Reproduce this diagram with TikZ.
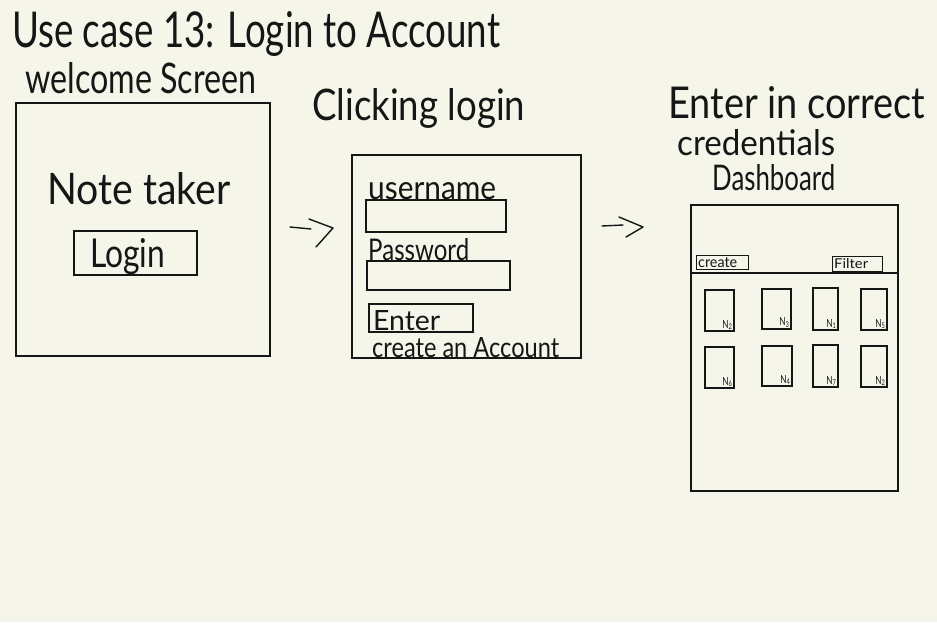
\documentclass[tikz,border=0pt]{standalone}
\usepackage{fontspec}
\setmainfont{Lato}
\usepackage{graphicx}
\definecolor{paper}{RGB}{245,245,234}
\definecolor{ink}{RGB}{22,22,22}
\newcommand\hw[3]{\resizebox{#1pt}{#2pt}{#3}}
\begin{document}
\begin{tikzpicture}[x=1pt,y=-1pt,
  frame/.style={draw=ink, line width=1.3pt, rectangle, inner sep=0pt},
  field/.style={draw=ink, line width=1.3pt, rectangle, inner sep=0pt},
  note/.style={draw=ink, line width=1.1pt, rectangle, inner sep=0pt},
  lbl/.style={inner sep=0pt, anchor=base west, text=ink},
  nlbl/.style={inner sep=0pt, anchor=south east, text=ink},
  stroke/.style={draw=ink, line width=1.4pt, line cap=round, line join=round}]
\fill[paper] (0,0) rectangle (937,622);
\useasboundingbox (0,0) rectangle (937,622);

% titles
\node[lbl] (title) at (12,47) {\hw{488}{36}{Use case 13: Login to Account}};
\node[lbl] (t1) at (25,93) {\hw{231}{31}{welcome Screen}};
\node[lbl] (t2) at (312,120) {\hw{213}{32}{Clicking login}};
\node[lbl] (t3a) at (668,118) {\hw{257}{32}{Enter in correct}};
\node[lbl] (t3b) at (677,155) {\hw{158}{26}{credentials}};
\node[lbl] (t3c) at (712,190) {\hw{123}{26}{Dashboard}};

% welcome screen
\node[frame, minimum width=254pt, minimum height=253pt] (welcome) at (143,229.5) {};
\node[lbl] (notetaker) at (47,204) {\hw{183}{32}{Note taker}};
\node[field, minimum width=123pt, minimum height=44pt] (loginbtn) at (135.5,253) {};
\node[lbl] (logintxt) at (90,267) {\hw{75}{29}{Login}};

% login screen
\node[frame, minimum width=229pt, minimum height=203pt] (loginscr) at (466.5,256.5) {};
\node[lbl] (utxt) at (368,199) {\hw{128}{17}{username}};
\node[field, minimum width=140pt, minimum height=32pt] (ufield) at (436,216) {};
\node[lbl] (ptxt) at (368,260) {\hw{101}{22}{Password}};
\node[field, minimum width=143pt, minimum height=29pt] (pfield) at (438.5,275.5) {};
\node[field, minimum width=104pt, minimum height=28pt] (enterbtn) at (421,318) {};
\node[lbl] (entertxt) at (373,330) {\hw{67}{20}{Enter}};
\node[lbl] (createacc) at (372,357) {\hw{187}{20}{create an Account}};

% dashboard
\node[frame, minimum width=207pt, minimum height=286pt] (dash) at (794.5,348) {};
\draw[draw=ink, line width=1.3pt] (dash.west |- 0,273) coordinate (dl) -- (dash.east |- 0,273) coordinate (dr);
\node[field, line width=1pt, minimum width=52pt, minimum height=14pt] (createbtn) at (722,262) {};
\node[lbl] (createtxt) at (698,267) {\hw{39}{10}{create}};
\node[field, line width=1pt, minimum width=50pt, minimum height=15pt] (filterbtn) at (857,263.5) {};
\node[lbl] (filtertxt) at (834,268) {\hw{34}{10}{Filter}};

\node[note, minimum width=29pt, minimum height=41pt] (n1) at (719.5,310.5) {};
\node[note, minimum width=29pt, minimum height=40pt] (n2) at (776.5,309) {};
\node[note, minimum width=25pt, minimum height=42pt] (n3) at (825.5,309) {};
\node[note, minimum width=26pt, minimum height=41pt] (n4) at (874,309.5) {};
\node[note, minimum width=29pt, minimum height=41pt] (n5) at (719.5,367.5) {};
\node[note, minimum width=30pt, minimum height=40pt] (n6) at (777,366) {};
\node[note, minimum width=25pt, minimum height=42pt] (n7) at (825.5,366) {};
\node[note, minimum width=26pt, minimum height=41pt] (n8) at (874,366.5) {};
\foreach \n/\s in {n1/2,n2/3,n3/1,n4/5,n5/6,n6/4,n7/7,n8/2}{
  \node[nlbl] (\n lab) at ([shift={(-2,-1.5)}]\n.south east) {\hw{10}{8}{N\textsubscript{\s}}};
}

% arrows
\coordinate (a1s) at (290,227); \coordinate (a1e) at (311,229);
\coordinate (c1a) at (309,219); \coordinate (c1t) at (333,228); \coordinate (c1b) at (316,247);
\draw[stroke] (a1s) -- (a1e);
\draw[stroke] (c1a) -- (c1t) -- (c1b);
\coordinate (a2s) at (602,226); \coordinate (a2e) at (623,225);
\coordinate (c2a) at (619,217); \coordinate (c2t) at (643,227); \coordinate (c2b) at (626,237);
\draw[stroke] (a2s) -- (a2e);
\draw[stroke] (c2a) -- (c2t) -- (c2b);
\end{tikzpicture}
\end{document}
